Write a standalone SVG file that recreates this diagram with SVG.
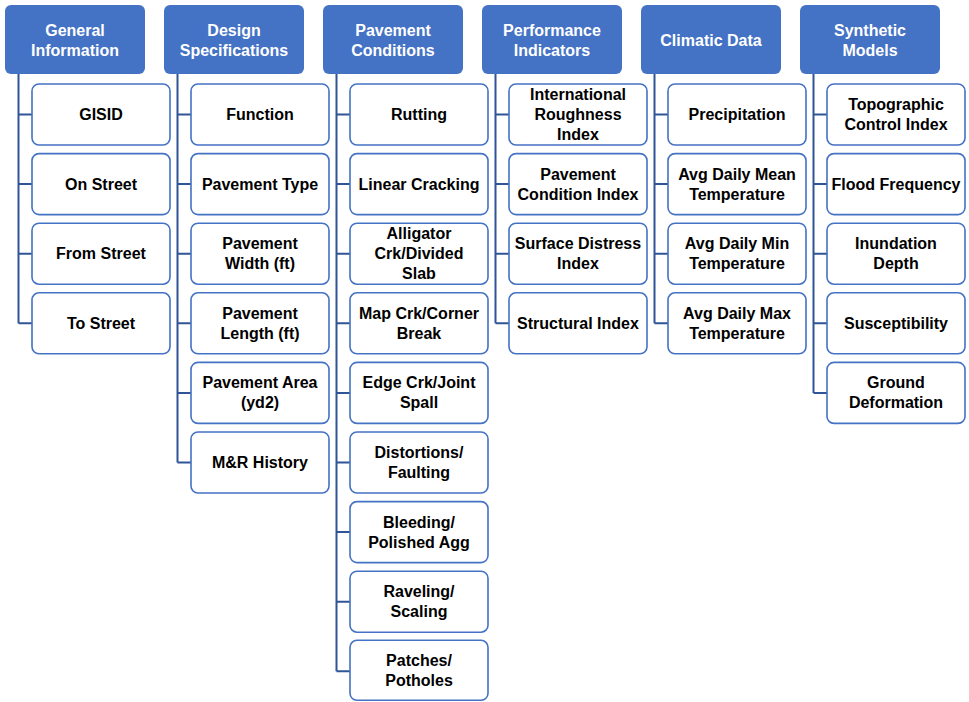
<svg xmlns="http://www.w3.org/2000/svg" width="969" height="702" viewBox="0 0 969 702">
<style>
.hd rect{fill:#4472C4;stroke:none}
.hd text{fill:#fff}
.nd rect{fill:#fff;stroke:#4472C4;stroke-width:1.6}
text{font-family:"Liberation Sans",Arial,sans-serif;font-weight:bold;font-size:16px;text-anchor:middle;fill:#000}
.cn path{fill:none;stroke:#2F5597;stroke-width:2}
</style>
<rect width="969" height="702" fill="#fff"/>
<g class="cn">
<path d="M18.5 74V323.3M18.5 114.5H32M18.5 184.1H32M18.5 253.7H32M18.5 323.3H32"/>
<path d="M177.5 74V462.5M177.5 114.5H191M177.5 184.1H191M177.5 253.7H191M177.5 323.3H191M177.5 392.9H191M177.5 462.5H191"/>
<path d="M336.5 74V671.3M336.5 114.5H350M336.5 184.1H350M336.5 253.7H350M336.5 323.3H350M336.5 392.9H350M336.5 462.5H350M336.5 532.1H350M336.5 601.7H350M336.5 671.3H350"/>
<path d="M495.5 74V323.3M495.5 114.5H509M495.5 184.1H509M495.5 253.7H509M495.5 323.3H509"/>
<path d="M654.5 74V323.3M654.5 114.5H668M654.5 184.1H668M654.5 253.7H668M654.5 323.3H668"/>
<path d="M813.5 74V392.9M813.5 114.5H827M813.5 184.1H827M813.5 253.7H827M813.5 323.3H827M813.5 392.9H827"/>
</g>
<g id="h1" class="hd"><rect x="5" y="5" width="140" height="69" rx="6"/><text x="75" y="35.5">General</text><text x="75" y="55.5">Information</text></g>
<g id="n1_1" class="nd"><rect x="32" y="84" width="138" height="61" rx="7"/><text x="101" y="120">GISID</text></g>
<g id="n1_2" class="nd"><rect x="32" y="153.6" width="138" height="61" rx="7"/><text x="101" y="189.6">On Street</text></g>
<g id="n1_3" class="nd"><rect x="32" y="223.2" width="138" height="61" rx="7"/><text x="101" y="259.2">From Street</text></g>
<g id="n1_4" class="nd"><rect x="32" y="292.8" width="138" height="61" rx="7"/><text x="101" y="328.8">To Street</text></g>
<g id="h2" class="hd"><rect x="164" y="5" width="140" height="69" rx="6"/><text x="234" y="35.5">Design</text><text x="234" y="55.5">Specifications</text></g>
<g id="n2_1" class="nd"><rect x="191" y="84" width="138" height="61" rx="7"/><text x="260" y="120">Function</text></g>
<g id="n2_2" class="nd"><rect x="191" y="153.6" width="138" height="61" rx="7"/><text x="260" y="189.6">Pavement Type</text></g>
<g id="n2_3" class="nd"><rect x="191" y="223.2" width="138" height="61" rx="7"/><text x="260" y="249.2">Pavement</text><text x="260" y="269.2">Width (ft)</text></g>
<g id="n2_4" class="nd"><rect x="191" y="292.8" width="138" height="61" rx="7"/><text x="260" y="318.8">Pavement</text><text x="260" y="338.8">Length (ft)</text></g>
<g id="n2_5" class="nd"><rect x="191" y="362.4" width="138" height="61" rx="7"/><text x="260" y="388.4">Pavement Area</text><text x="260" y="408.4">(yd2)</text></g>
<g id="n2_6" class="nd"><rect x="191" y="432" width="138" height="61" rx="7"/><text x="260" y="468">M&amp;R History</text></g>
<g id="h3" class="hd"><rect x="323" y="5" width="140" height="69" rx="6"/><text x="393" y="35.5">Pavement</text><text x="393" y="55.5">Conditions</text></g>
<g id="n3_1" class="nd"><rect x="350" y="84" width="138" height="61" rx="7"/><text x="419" y="120">Rutting</text></g>
<g id="n3_2" class="nd"><rect x="350" y="153.6" width="138" height="61" rx="7"/><text x="419" y="189.6">Linear Cracking</text></g>
<g id="n3_3" class="nd"><rect x="350" y="223.2" width="138" height="61" rx="7"/><text x="419" y="239.2">Alligator</text><text x="419" y="259.2">Crk/Divided</text><text x="419" y="279.2">Slab</text></g>
<g id="n3_4" class="nd"><rect x="350" y="292.8" width="138" height="61" rx="7"/><text x="419" y="318.8">Map Crk/Corner</text><text x="419" y="338.8">Break</text></g>
<g id="n3_5" class="nd"><rect x="350" y="362.4" width="138" height="61" rx="7"/><text x="419" y="388.4">Edge Crk/Joint</text><text x="419" y="408.4">Spall</text></g>
<g id="n3_6" class="nd"><rect x="350" y="432" width="138" height="61" rx="7"/><text x="419" y="458">Distortions/</text><text x="419" y="478">Faulting</text></g>
<g id="n3_7" class="nd"><rect x="350" y="501.6" width="138" height="61" rx="7"/><text x="419" y="527.6">Bleeding/</text><text x="419" y="547.6">Polished Agg</text></g>
<g id="n3_8" class="nd"><rect x="350" y="571.2" width="138" height="61" rx="7"/><text x="419" y="597.2">Raveling/</text><text x="419" y="617.2">Scaling</text></g>
<g id="n3_9" class="nd"><rect x="350" y="640.3" width="138" height="60" rx="7"/><text x="419" y="666.3">Patches/</text><text x="419" y="686.3">Potholes</text></g>
<g id="h4" class="hd"><rect x="482" y="5" width="140" height="69" rx="6"/><text x="552" y="35.5">Performance</text><text x="552" y="55.5">Indicators</text></g>
<g id="n4_1" class="nd"><rect x="509" y="84" width="138" height="61" rx="7"/><text x="578" y="100">International</text><text x="578" y="120">Roughness</text><text x="578" y="140">Index</text></g>
<g id="n4_2" class="nd"><rect x="509" y="153.6" width="138" height="61" rx="7"/><text x="578" y="179.6">Pavement</text><text x="578" y="199.6">Condition Index</text></g>
<g id="n4_3" class="nd"><rect x="509" y="223.2" width="138" height="61" rx="7"/><text x="578" y="249.2">Surface Distress</text><text x="578" y="269.2">Index</text></g>
<g id="n4_4" class="nd"><rect x="509" y="292.8" width="138" height="61" rx="7"/><text x="578" y="328.8">Structural Index</text></g>
<g id="h5" class="hd"><rect x="641" y="5" width="140" height="69" rx="6"/><text x="711" y="45.5">Climatic Data</text></g>
<g id="n5_1" class="nd"><rect x="668" y="84" width="138" height="61" rx="7"/><text x="737" y="120">Precipitation</text></g>
<g id="n5_2" class="nd"><rect x="668" y="153.6" width="138" height="61" rx="7"/><text x="737" y="179.6">Avg Daily Mean</text><text x="737" y="199.6">Temperature</text></g>
<g id="n5_3" class="nd"><rect x="668" y="223.2" width="138" height="61" rx="7"/><text x="737" y="249.2">Avg Daily Min</text><text x="737" y="269.2">Temperature</text></g>
<g id="n5_4" class="nd"><rect x="668" y="292.8" width="138" height="61" rx="7"/><text x="737" y="318.8">Avg Daily Max</text><text x="737" y="338.8">Temperature</text></g>
<g id="h6" class="hd"><rect x="800" y="5" width="140" height="69" rx="6"/><text x="870" y="35.5">Synthetic</text><text x="870" y="55.5">Models</text></g>
<g id="n6_1" class="nd"><rect x="827" y="84" width="138" height="61" rx="7"/><text x="896" y="110">Topographic</text><text x="896" y="130">Control Index</text></g>
<g id="n6_2" class="nd"><rect x="827" y="153.6" width="138" height="61" rx="7"/><text x="896" y="189.6">Flood Frequency</text></g>
<g id="n6_3" class="nd"><rect x="827" y="223.2" width="138" height="61" rx="7"/><text x="896" y="249.2">Inundation</text><text x="896" y="269.2">Depth</text></g>
<g id="n6_4" class="nd"><rect x="827" y="292.8" width="138" height="61" rx="7"/><text x="896" y="328.8">Susceptibility</text></g>
<g id="n6_5" class="nd"><rect x="827" y="362.4" width="138" height="61" rx="7"/><text x="896" y="388.4">Ground</text><text x="896" y="408.4">Deformation</text></g>
</svg>
